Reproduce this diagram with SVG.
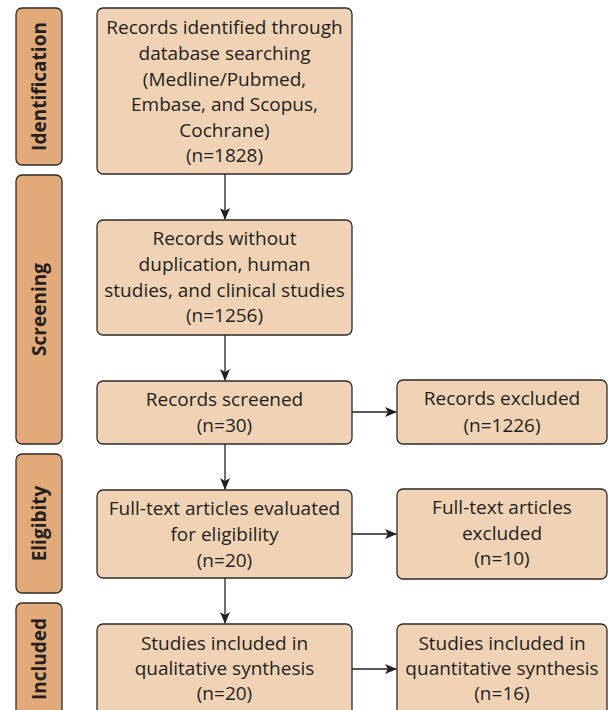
<svg xmlns="http://www.w3.org/2000/svg" width="608" height="710" viewBox="0 0 608 710">
<style>
.stage rect{fill:#E2A979;stroke:#2b2b2b;stroke-width:1.3}
.stage text{font-family:"Open Sans","Liberation Sans",sans-serif;font-weight:bold;font-size:19px;fill:#231f20;text-anchor:middle}
.box rect{fill:#F0D3B4;stroke:#2b2b2b;stroke-width:1.3}
.box text{font-family:"Open Sans","Liberation Sans",sans-serif;font-size:19px;fill:#231f20;text-anchor:middle}
.conn line{stroke:#231f20;stroke-width:1.3;fill:none}
</style>
<defs>
<marker id="ah" markerWidth="12" markerHeight="10" refX="11" refY="5" orient="auto" markerUnits="userSpaceOnUse">
<path d="M0,0 L12,5 L0,10 L3,5 Z" fill="#231f20"/>
</marker>
</defs>
<rect width="608" height="710" fill="#fff"/>
<g id="stage-identification" class="stage"><rect x="16" y="8" width="46" height="157" rx="6"/><text transform="translate(46,86.5) rotate(-90)">Identification</text></g>
<g id="stage-screening" class="stage"><rect x="16" y="175" width="46" height="269" rx="6"/><text transform="translate(46,309.5) rotate(-90)">Screening</text></g>
<g id="stage-eligibility" class="stage"><rect x="16" y="454" width="46" height="139" rx="6"/><text transform="translate(46,523.5) rotate(-90)">Eligibity</text></g>
<g id="stage-included" class="stage"><rect x="16" y="603" width="46" height="120" rx="6"/><text transform="translate(46,659) rotate(-90)">Included</text></g>

<g id="n1" class="box"><rect x="97" y="8" width="255" height="166" rx="6"/>
<text x="224.5" y="34">Records identified through</text>
<text x="224.5" y="60">database searching</text>
<text x="224.5" y="86">(Medline/Pubmed,</text>
<text x="224.5" y="111">Embase, and Scopus,</text>
<text x="224.5" y="137">Cochrane)</text>
<text x="224.5" y="162">(n=1828)</text></g>
<g id="n2" class="box"><rect x="97" y="220" width="255" height="115" rx="6"/>
<text x="224.5" y="245">Records without</text>
<text x="224.5" y="271">duplication, human</text>
<text x="224.5" y="297">studies, and clinical studies</text>
<text x="224.5" y="322">(n=1256)</text></g>
<g id="n3" class="box"><rect x="97" y="381" width="255" height="63" rx="6"/>
<text x="224.5" y="406">Records screened</text>
<text x="224.5" y="432">(n=30)</text></g>
<g id="n4" class="box"><rect x="397" y="380" width="210" height="64" rx="6"/>
<text x="502" y="405">Records excluded</text>
<text x="502" y="432">(n=1226)</text></g>
<g id="n5" class="box"><rect x="97" y="490" width="255" height="88" rx="6"/>
<text x="224.5" y="515">Full-text articles evaluated</text>
<text x="224.5" y="541">for eligibility</text>
<text x="224.5" y="567">(n=20)</text></g>
<g id="n6" class="box"><rect x="397" y="489" width="210" height="90" rx="6"/>
<text x="502" y="514">Full-text articles</text>
<text x="502" y="540">excluded</text>
<text x="502" y="565">(n=10)</text></g>
<g id="n7" class="box"><rect x="97" y="624" width="255" height="100" rx="6"/>
<text x="224.5" y="650">Studies included in</text>
<text x="224.5" y="675">qualitative synthesis</text>
<text x="224.5" y="700">(n=20)</text></g>
<g id="n8" class="box"><rect x="397" y="624" width="210" height="100" rx="6"/>
<text x="502" y="650">Studies included in</text>
<text x="502" y="675">quantitative synthesis</text>
<text x="502" y="700">(n=16)</text></g>

<g id="connectors" class="conn">
<line x1="225" y1="174" x2="225" y2="219" marker-end="url(#ah)"/>
<line x1="225" y1="335" x2="225" y2="380" marker-end="url(#ah)"/>
<line x1="225" y1="444" x2="225" y2="489" marker-end="url(#ah)"/>
<line x1="225" y1="578" x2="225" y2="623" marker-end="url(#ah)"/>
<line x1="352" y1="412" x2="396" y2="412" marker-end="url(#ah)"/>
<line x1="352" y1="534" x2="396" y2="534" marker-end="url(#ah)"/>
<line x1="352" y1="669" x2="396" y2="669" marker-end="url(#ah)"/>
</g>
</svg>
